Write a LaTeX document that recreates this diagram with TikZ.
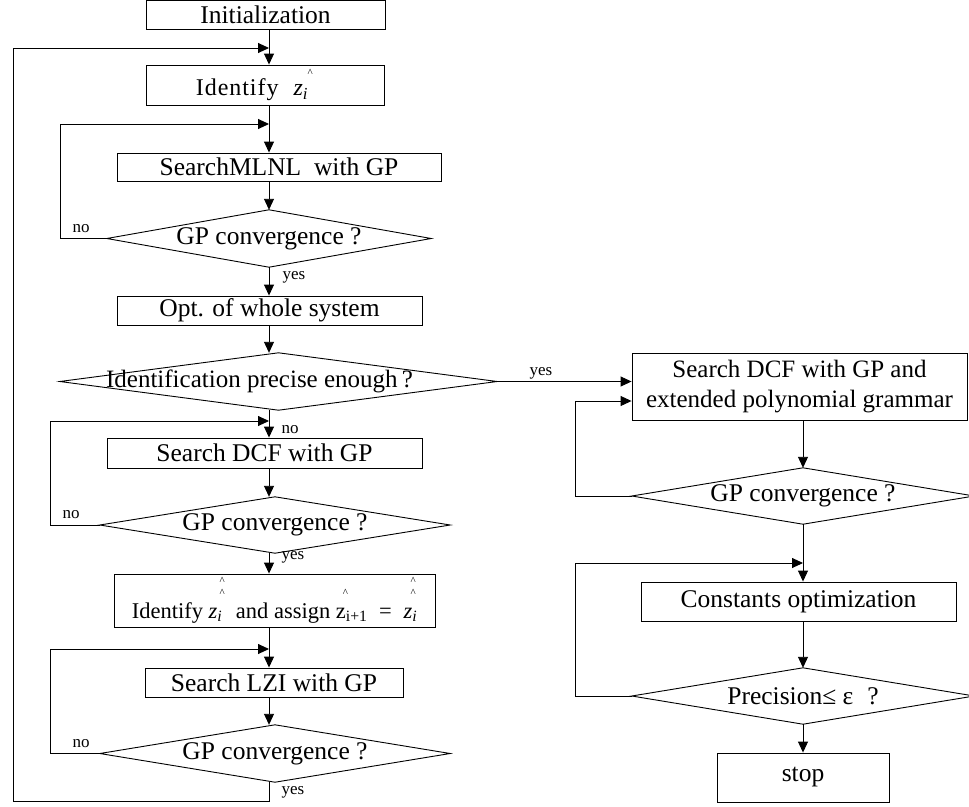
\documentclass[tikz,border=0pt]{standalone}
\usepackage{fontspec}
\setmainfont{Liberation Serif}
\usetikzlibrary{arrows.meta}
\newcommand{\crt}[2]{\makebox[0pt][l]{\hspace*{#1}\raisebox{#2}{\fontsize{11}{11}\selectfont\textasciicircum}}}
\newcommand{\zi}{\textit{z}\textsubscript{\textit{i}}}
\begin{document}
\begin{tikzpicture}[x=1pt,y=-1pt,
 procbox/.style={draw, line width=0.9pt, inner sep=0pt, font=\fontsize{25.5}{30}\selectfont, align=center},
 decnode/.style={inner sep=0pt, font=\fontsize{25.5}{30}\selectfont},
 diaedge/.style={line width=0.9pt},
 lbl/.style={inner sep=0pt, font=\fontsize{17}{19}\selectfont},
 conn/.style={line width=0.9pt},
 arr/.style={conn, -{Triangle[length=11pt,width=10pt]}}]
\useasboundingbox (0,0) rectangle (969,806);
\clip (0,0) rectangle (969,806);
% spines and loop corners
\coordinate (sp) at (269,0);
\coordinate (rsp) at (803,0);
\coordinate (j0) at (269,48);
\coordinate (lo) at (13,801);
\coordinate (l1) at (60,124);
\coordinate (l2) at (50,421);
\coordinate (l3) at (50,649);
\coordinate (r1) at (575,401);
\coordinate (r2) at (575,563);
% left column
\node[procbox, minimum width=239pt, minimum height=29pt] (init) at (265.5,14.5) {Initialization};
\node[procbox, minimum width=238pt, minimum height=40pt, font=\fontsize{24}{28}\selectfont] (ident) at (265,85) {{\addfontfeature{LetterSpace=4}Identify}\hspace{15pt}\crt{14pt}{19pt}\zi\hspace*{26pt}};
\node[procbox, minimum width=324pt, minimum height=28pt] (s1) at (279,167) {SearchMLNL\ \ with GP};
\node[decnode, minimum width=324pt, minimum height=57pt] (d1) at (269,238.5) {GP convergence ?};
\node[procbox, minimum width=305pt, minimum height=29pt] (opt) at (269.5,310.5) {Opt. of whole system};
\node[decnode, minimum width=437pt, minimum height=57pt, font=\fontsize{25}{30}\selectfont] (d2) at (278.5,381.5) {Identification precise enough\,?\hspace*{38pt}};
\node[procbox, minimum width=315pt, minimum height=30pt] (dcf) at (264.5,453) {Search DCF with GP};
\node[decnode, minimum width=350pt, minimum height=56pt] (d3) at (275,525) {GP convergence ?};
\node[procbox, minimum width=321pt, minimum height=53pt, font=\fontsize{22.5}{27}\selectfont] (asg) at (274.5,600.5) {Identify \crt{11pt}{34pt}\crt{11pt}{22pt}\zi\hspace{8pt} and assign \crt{7pt}{22pt}z\textsubscript{i+1}\hspace{6pt} = \hspace{6pt}\crt{7pt}{34pt}\crt{7pt}{22pt}\zi};
\node[procbox, minimum width=258pt, minimum height=29pt] (lzi) at (274,682.5) {Search LZI with GP};
\node[decnode, minimum width=350pt, minimum height=57pt] (d4) at (275,753.5) {GP convergence ?};
% right column
\node[procbox, minimum width=335pt, minimum height=67pt, font=\fontsize{25}{30}\selectfont] (rb) at (799.5,386.5) {Search DCF with GP and\\extended polynomial grammar};
\node[decnode, minimum width=342pt, minimum height=56pt] (d5) at (803,496) {GP convergence ?};
\node[procbox, minimum width=315pt, minimum height=39pt] (cons) at (798.5,601.5) {Constants optimization};
\node[decnode, minimum width=342pt, minimum height=56pt] (d6) at (803,696) {Precision≤ ε\hspace*{14pt}?};
\node[procbox, minimum width=172pt, minimum height=49pt] (stop) at (803,777.5) {stop};
% diamonds
\foreach \d in {d1,d2,d3,d4,d5,d6}
  \draw[diaedge] (\d.west) -- (\d.north) -- (\d.east) -- (\d.south) -- cycle;
% connectors left
\draw[arr] (init.south -| sp) -- (ident.north -| sp);
\draw[arr] (ident.south -| sp) -- (s1.north -| sp);
\draw[arr] (s1.south -| sp) -- (d1.north);
\draw[arr] (d1.south) -- (opt.north -| d1.south);
\draw[arr] (opt.south -| sp) -- (d2.north -| sp);
\draw[arr] (d2.south -| sp) -- (dcf.north -| sp);
\draw[arr] (dcf.south -| sp) -- (d3.north -| sp);
\draw[arr] (d3.south -| sp) -- (asg.north -| sp);
\draw[arr] (asg.south -| sp) -- (lzi.north -| sp);
\draw[arr] (lzi.south -| sp) -- (d4.north -| sp);
\draw[arr] (d4.south -| sp) -- (sp |- lo) -- (lo) |- (j0);
\draw[arr] (d1.west) -| (l1) -- (sp |- l1);
\draw[arr] (d3.west) -| (l2) -- (sp |- l2);
\draw[arr] (d4.west) -| (l3) -- (sp |- l3);
\draw[arr] (d2.east) -- (d2.east -| rb.west);
% connectors right
\draw[arr] (rb.south -| rsp) -- (d5.north);
\draw[arr] (d5.west) -| (r1) -- (r1 -| rb.west);
\draw[arr] (d5.south) -- (cons.north -| rsp);
\draw[arr] (cons.south -| rsp) -- (d6.north);
\draw[arr] (d6.west) -| (r2) -- (rsp |- r2);
\draw[arr] (d6.south) -- (stop.north);
% labels
\node[lbl] (n1) at (81,229) {no};
\node[lbl] (y1) at (294,277) {yes};
\node[lbl] (y2) at (541,373) {yes};
\node[lbl] (n2) at (290,430) {no};
\node[lbl] (n3) at (71,515) {no};
\node[lbl] (y3) at (293,557) {yes};
\node[lbl] (n4) at (81,744) {no};
\node[lbl] (y4) at (293,792) {yes};
\end{tikzpicture}
\end{document}
